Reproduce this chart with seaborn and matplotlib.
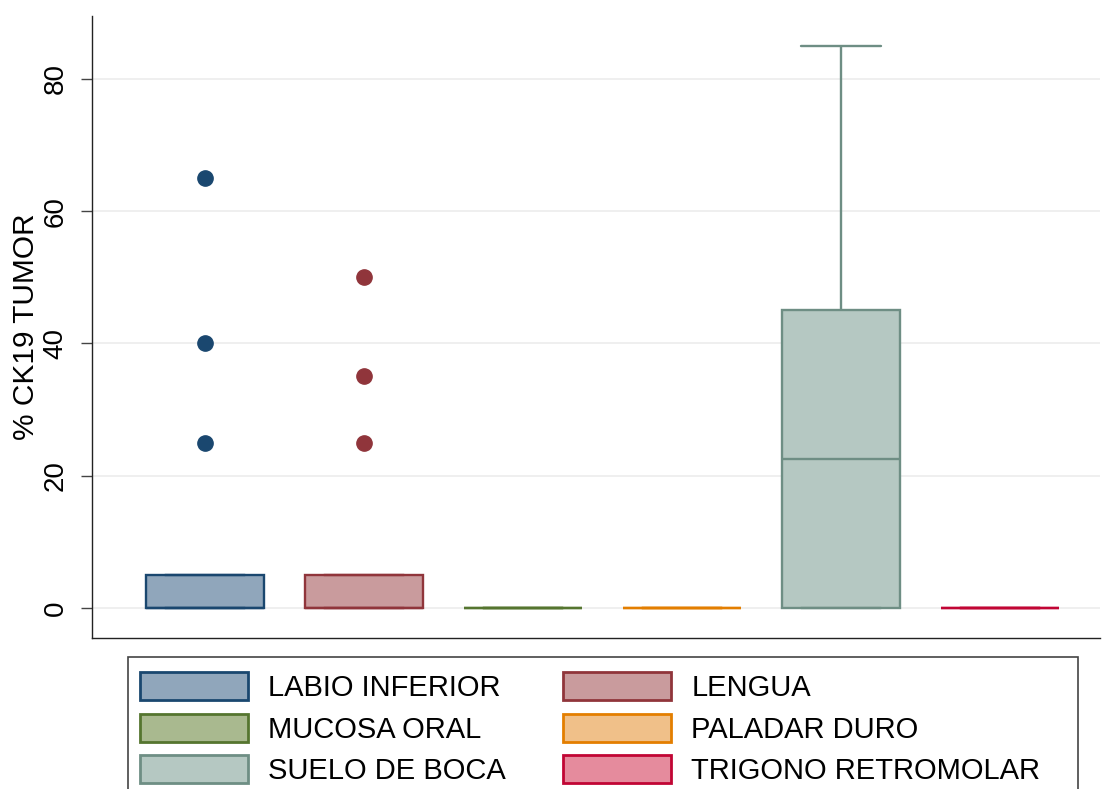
import numpy as np
import pandas as pd
import seaborn as sns
import matplotlib.pyplot as plt
from matplotlib.patches import Patch, Rectangle

# Tumour site categories and % CK19-positive tumour per case
categories = ["LABIO INFERIOR", "LENGUA", "MUCOSA ORAL",
              "PALADAR DURO", "SUELO DE BOCA", "TRIGONO RETROMOLAR"]
labio_inferior = [0, 0, 0, 0, 0, 0, 0, 5, 5, 5, 25, 40, 65]
lengua = [0, 0, 0, 0, 0, 0, 0, 5, 5, 5, 25, 35, 50]
mucosa_oral = [0, 0, 0]
paladar_duro = [0, 0]
suelo_de_boca = [0, 0, 0, 20, 25, 45, 45, 85]
trigono_retromolar = [0, 0, 0]
yticks = [0, 20, 40, 60, 80]

face_colors = ["#90a6bb", "#c99b9d", "#a9b98f", "#f0c089", "#b5c8c2", "#e58b9d"]
edge_colors = ["#1a476f", "#90353b", "#55752f", "#e37e00", "#6e8e84", "#c10534"]

values = [labio_inferior, lengua, mucosa_oral, paladar_duro,
          suelo_de_boca, trigono_retromolar]
df = pd.DataFrame({
    "site": np.repeat(categories, [len(v) for v in values]),
    "ck19": np.concatenate(values),
})

sns.set_theme(style="white")
plt.rcParams["font.family"] = ["Liberation Sans", "DejaVu Sans"]
plt.rcParams["text.color"] = "black"
plt.rcParams["axes.labelcolor"] = "black"
plt.rcParams["ytick.color"] = "black"

W, H = 1104, 789
fig = plt.figure(figsize=(W / 100, H / 100), dpi=100)
ax = fig.add_axes([92 / W, 1 - 638 / H, 1008 / W, 622 / H])

sns.boxplot(data=df, x="site", y="ck19", hue="site", order=categories,
            hue_order=categories, palette=face_colors, saturation=1,
            dodge=False, width=0.74, linewidth=1.7, whis=1.5,
            legend=False, ax=ax,
            flierprops=dict(marker="o", markersize=11))

for cont, ec in zip(ax.containers, edge_colors):
    for b in cont.boxes:
        b.set_edgecolor(ec)
        b.set_linewidth(1.7)
    for ln in list(cont.whiskers) + list(cont.medians):
        ln.set_color(ec)
        ln.set_linewidth(1.7)
    for ln in cont.caps:
        ln.set_color(ec)
        ln.set_linewidth(1.7)
        xd = np.asarray(ln.get_xdata(), dtype=float)
        c = xd.mean()
        ln.set_xdata([c - 0.25, c + 0.25])
    for fl in cont.fliers:
        fl.set_markerfacecolor(ec)
        fl.set_markeredgecolor(ec)
        fl.set_markersize(11)

ax.set_xlim(-0.71, 5.63)
ax.set_ylim(-4.55, 89.5)
ax.set_yticks(yticks)
ax.set_yticklabels([str(t) for t in yticks], rotation=90, va="center",
                   fontsize=20)
ax.set_xticks([])
ax.set_xlabel("")
ax.set_ylabel("% CK19 TUMOR", fontsize=21.5, labelpad=2)
ax.grid(axis="y", color="#ececec", linewidth=1.2)
ax.set_axisbelow(True)
for s in ["top", "right"]:
    ax.spines[s].set_visible(False)
for s in ["left", "bottom"]:
    ax.spines[s].set_color("#222222")
    ax.spines[s].set_linewidth(1.0)
ax.tick_params(axis="y", which="major", left=True, length=8, width=1.0,
               color="#444444", pad=9)

# Legend below the plot, filled column by column, inside a plain frame
fig.patches.append(Rectangle((128 / W, 1 - 800 / H), 950 / W, 143 / H,
                             transform=fig.transFigure, fill=False,
                             edgecolor="#444444", linewidth=1.2))
order = [0, 2, 4, 1, 3, 5]
handles = [Patch(facecolor=face_colors[i], edgecolor=edge_colors[i],
                 linewidth=2, label=categories[i]) for i in order]
leg = fig.legend(handles=handles, ncol=2, loc="upper left",
                 bbox_to_anchor=(140 / W, 1 - 672 / H),
                 fontsize=21, frameon=False,
                 handlelength=3.7, handleheight=1.1,
                 handletextpad=0.7, labelspacing=0.4, borderpad=0,
                 borderaxespad=0, columnspacing=1.95)

fig.savefig("out.png", dpi=100)
